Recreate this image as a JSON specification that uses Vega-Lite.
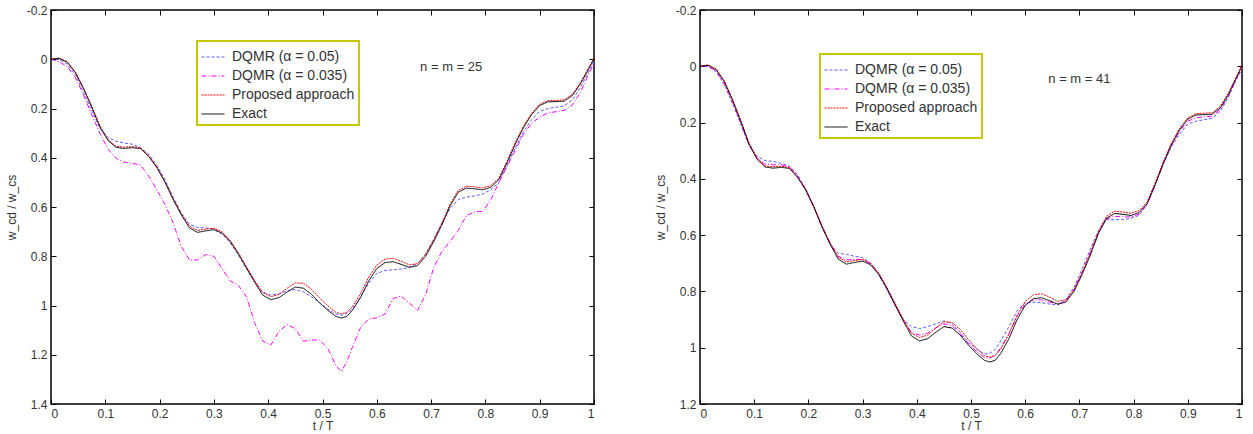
{
  "$schema": "https://vega.github.io/schema/vega-lite/v6.json",
  "padding": {"left": 4, "top": 3, "right": 4, "bottom": 0},
  "spacing": 57,
  "config": {
    "font": "Liberation Sans",
    "view": {"stroke": "black", "strokeWidth": 1.5},
    "axis": {"grid": false, "domain": false, "tickSize": -5, "tickColor": "black", "tickWidth": 1, "labelPadding": 9, "labelFont": "Liberation Sans", "labelFontSize": 12, "labelColor": "#333", "titleFont": "Liberation Sans", "titleFontSize": 12, "titleFontWeight": "normal", "titleColor": "#333", "labelExpr": "'' + datum.value"},
    "legend": {"title": null, "symbolType": "stroke", "symbolSize": 529, "fillColor": "white", "strokeColor": "#c8c800", "strokeWidth": 2, "padding": 4, "labelFont": "Liberation Sans", "labelFontSize": 14, "labelColor": "#333", "labelOffset": 7, "rowPadding": -2}
  },
  "datasets": {
    "left": [
      {"t":0,"E":0,"R":0,"B":0,"M":0},
      {"t":0.015,"E":-0.003,"R":-0.005,"B":0,"M":0.01},
      {"t":0.03,"E":0.012,"R":0.01,"B":0.02,"M":0.03},
      {"t":0.045,"E":0.055,"R":0.052,"B":0.065,"M":0.075},
      {"t":0.06,"E":0.12,"R":0.117,"B":0.135,"M":0.145},
      {"t":0.075,"E":0.195,"R":0.19,"B":0.21,"M":0.225},
      {"t":0.09,"E":0.275,"R":0.27,"B":0.28,"M":0.3},
      {"t":0.105,"E":0.33,"R":0.326,"B":0.318,"M":0.365},
      {"t":0.12,"E":0.358,"R":0.354,"B":0.333,"M":0.402},
      {"t":0.135,"E":0.362,"R":0.357,"B":0.34,"M":0.418},
      {"t":0.15,"E":0.359,"R":0.355,"B":0.345,"M":0.423},
      {"t":0.165,"E":0.363,"R":0.36,"B":0.36,"M":0.43},
      {"t":0.18,"E":0.395,"R":0.392,"B":0.385,"M":0.475},
      {"t":0.195,"E":0.44,"R":0.437,"B":0.43,"M":0.53},
      {"t":0.21,"E":0.5,"R":0.497,"B":0.49,"M":0.59},
      {"t":0.225,"E":0.57,"R":0.566,"B":0.56,"M":0.665},
      {"t":0.24,"E":0.632,"R":0.627,"B":0.625,"M":0.76},
      {"t":0.255,"E":0.685,"R":0.678,"B":0.67,"M":0.815},
      {"t":0.27,"E":0.703,"R":0.695,"B":0.683,"M":0.815},
      {"t":0.285,"E":0.697,"R":0.69,"B":0.685,"M":0.793},
      {"t":0.3,"E":0.692,"R":0.686,"B":0.69,"M":0.8},
      {"t":0.315,"E":0.706,"R":0.7,"B":0.71,"M":0.85},
      {"t":0.33,"E":0.74,"R":0.735,"B":0.745,"M":0.9},
      {"t":0.345,"E":0.79,"R":0.786,"B":0.795,"M":0.918},
      {"t":0.36,"E":0.848,"R":0.842,"B":0.85,"M":0.965},
      {"t":0.375,"E":0.905,"R":0.898,"B":0.905,"M":1.07},
      {"t":0.39,"E":0.958,"R":0.948,"B":0.945,"M":1.145},
      {"t":0.405,"E":0.976,"R":0.964,"B":0.958,"M":1.16},
      {"t":0.42,"E":0.968,"R":0.955,"B":0.952,"M":1.105},
      {"t":0.435,"E":0.945,"R":0.93,"B":0.94,"M":1.077},
      {"t":0.45,"E":0.925,"R":0.908,"B":0.935,"M":1.095},
      {"t":0.465,"E":0.93,"R":0.91,"B":0.945,"M":1.145},
      {"t":0.48,"E":0.955,"R":0.935,"B":0.965,"M":1.14},
      {"t":0.495,"E":0.99,"R":0.97,"B":0.99,"M":1.14},
      {"t":0.51,"E":1.02,"R":1.002,"B":1.015,"M":1.175},
      {"t":0.525,"E":1.045,"R":1.028,"B":1.035,"M":1.245},
      {"t":0.535,"E":1.051,"R":1.034,"B":1.04,"M":1.268},
      {"t":0.545,"E":1.044,"R":1.027,"B":1.032,"M":1.227},
      {"t":0.555,"E":1.02,"R":1.005,"B":1.015,"M":1.17},
      {"t":0.57,"E":0.968,"R":0.952,"B":0.965,"M":1.09},
      {"t":0.585,"E":0.9,"R":0.885,"B":0.91,"M":1.055},
      {"t":0.6,"E":0.85,"R":0.836,"B":0.87,"M":1.05},
      {"t":0.615,"E":0.826,"R":0.812,"B":0.858,"M":1.035},
      {"t":0.63,"E":0.822,"R":0.808,"B":0.855,"M":0.972},
      {"t":0.645,"E":0.833,"R":0.82,"B":0.852,"M":0.962},
      {"t":0.66,"E":0.845,"R":0.835,"B":0.845,"M":0.99},
      {"t":0.675,"E":0.838,"R":0.83,"B":0.83,"M":1.02},
      {"t":0.69,"E":0.8,"R":0.793,"B":0.79,"M":0.955},
      {"t":0.705,"E":0.74,"R":0.733,"B":0.73,"M":0.845},
      {"t":0.72,"E":0.672,"R":0.665,"B":0.665,"M":0.78},
      {"t":0.735,"E":0.595,"R":0.588,"B":0.605,"M":0.74},
      {"t":0.75,"E":0.54,"R":0.533,"B":0.57,"M":0.695},
      {"t":0.765,"E":0.523,"R":0.515,"B":0.56,"M":0.635},
      {"t":0.78,"E":0.526,"R":0.518,"B":0.555,"M":0.62},
      {"t":0.795,"E":0.53,"R":0.522,"B":0.548,"M":0.618},
      {"t":0.81,"E":0.52,"R":0.513,"B":0.53,"M":0.57},
      {"t":0.825,"E":0.488,"R":0.482,"B":0.5,"M":0.5},
      {"t":0.84,"E":0.42,"R":0.413,"B":0.43,"M":0.435},
      {"t":0.855,"E":0.345,"R":0.338,"B":0.36,"M":0.37},
      {"t":0.87,"E":0.278,"R":0.272,"B":0.295,"M":0.305},
      {"t":0.885,"E":0.225,"R":0.22,"B":0.245,"M":0.26},
      {"t":0.9,"E":0.188,"R":0.183,"B":0.212,"M":0.235},
      {"t":0.915,"E":0.173,"R":0.168,"B":0.2,"M":0.218},
      {"t":0.93,"E":0.172,"R":0.167,"B":0.195,"M":0.213},
      {"t":0.945,"E":0.17,"R":0.165,"B":0.19,"M":0.208},
      {"t":0.96,"E":0.148,"R":0.143,"B":0.165,"M":0.185},
      {"t":0.975,"E":0.1,"R":0.095,"B":0.115,"M":0.135},
      {"t":0.99,"E":0.04,"R":0.035,"B":0.05,"M":0.06},
      {"t":1,"E":0,"R":-0.005,"B":0.01,"M":0.02}
    ],
    "right": [
      {"t":0,"E":0,"R":0,"B":0,"M":0},
      {"t":0.015,"E":-0.003,"R":-0.005,"B":0,"M":0},
      {"t":0.03,"E":0.012,"R":0.01,"B":0.02,"M":0.018},
      {"t":0.045,"E":0.055,"R":0.052,"B":0.065,"M":0.062},
      {"t":0.06,"E":0.12,"R":0.117,"B":0.132,"M":0.128},
      {"t":0.075,"E":0.195,"R":0.19,"B":0.205,"M":0.2},
      {"t":0.09,"E":0.275,"R":0.27,"B":0.278,"M":0.277},
      {"t":0.105,"E":0.33,"R":0.326,"B":0.32,"M":0.326},
      {"t":0.12,"E":0.358,"R":0.354,"B":0.335,"M":0.348},
      {"t":0.135,"E":0.362,"R":0.357,"B":0.338,"M":0.35},
      {"t":0.15,"E":0.359,"R":0.355,"B":0.345,"M":0.35},
      {"t":0.165,"E":0.363,"R":0.36,"B":0.355,"M":0.357},
      {"t":0.18,"E":0.395,"R":0.392,"B":0.385,"M":0.39},
      {"t":0.195,"E":0.44,"R":0.437,"B":0.435,"M":0.438},
      {"t":0.21,"E":0.5,"R":0.497,"B":0.5,"M":0.5},
      {"t":0.225,"E":0.57,"R":0.566,"B":0.57,"M":0.57},
      {"t":0.24,"E":0.632,"R":0.627,"B":0.63,"M":0.632},
      {"t":0.255,"E":0.685,"R":0.678,"B":0.665,"M":0.675},
      {"t":0.27,"E":0.703,"R":0.695,"B":0.668,"M":0.688},
      {"t":0.285,"E":0.697,"R":0.69,"B":0.675,"M":0.686},
      {"t":0.3,"E":0.692,"R":0.686,"B":0.68,"M":0.686},
      {"t":0.315,"E":0.706,"R":0.7,"B":0.7,"M":0.703},
      {"t":0.33,"E":0.74,"R":0.735,"B":0.74,"M":0.74},
      {"t":0.345,"E":0.79,"R":0.786,"B":0.795,"M":0.79},
      {"t":0.36,"E":0.848,"R":0.842,"B":0.85,"M":0.848},
      {"t":0.375,"E":0.905,"R":0.898,"B":0.9,"M":0.902},
      {"t":0.39,"E":0.958,"R":0.948,"B":0.925,"M":0.945},
      {"t":0.405,"E":0.976,"R":0.964,"B":0.932,"M":0.955},
      {"t":0.42,"E":0.968,"R":0.955,"B":0.925,"M":0.948},
      {"t":0.435,"E":0.945,"R":0.93,"B":0.915,"M":0.93},
      {"t":0.45,"E":0.925,"R":0.908,"B":0.905,"M":0.915},
      {"t":0.465,"E":0.93,"R":0.91,"B":0.915,"M":0.922},
      {"t":0.48,"E":0.955,"R":0.935,"B":0.945,"M":0.95},
      {"t":0.495,"E":0.99,"R":0.97,"B":0.98,"M":0.985},
      {"t":0.51,"E":1.02,"R":1.002,"B":1.005,"M":1.013},
      {"t":0.525,"E":1.045,"R":1.028,"B":1.022,"M":1.035},
      {"t":0.535,"E":1.051,"R":1.034,"B":1.02,"M":1.037},
      {"t":0.545,"E":1.044,"R":1.027,"B":1.005,"M":1.025},
      {"t":0.555,"E":1.02,"R":1.005,"B":0.975,"M":1.0},
      {"t":0.57,"E":0.968,"R":0.952,"B":0.925,"M":0.95},
      {"t":0.585,"E":0.9,"R":0.885,"B":0.87,"M":0.888},
      {"t":0.6,"E":0.85,"R":0.836,"B":0.84,"M":0.845},
      {"t":0.615,"E":0.826,"R":0.812,"B":0.838,"M":0.83},
      {"t":0.63,"E":0.822,"R":0.808,"B":0.84,"M":0.83},
      {"t":0.645,"E":0.833,"R":0.82,"B":0.845,"M":0.838},
      {"t":0.66,"E":0.845,"R":0.835,"B":0.848,"M":0.846},
      {"t":0.675,"E":0.838,"R":0.83,"B":0.83,"M":0.835},
      {"t":0.69,"E":0.8,"R":0.793,"B":0.785,"M":0.795},
      {"t":0.705,"E":0.74,"R":0.733,"B":0.72,"M":0.732},
      {"t":0.72,"E":0.672,"R":0.665,"B":0.65,"M":0.662},
      {"t":0.735,"E":0.595,"R":0.588,"B":0.585,"M":0.59},
      {"t":0.75,"E":0.54,"R":0.533,"B":0.545,"M":0.542},
      {"t":0.765,"E":0.523,"R":0.515,"B":0.545,"M":0.533},
      {"t":0.78,"E":0.526,"R":0.518,"B":0.545,"M":0.535},
      {"t":0.795,"E":0.53,"R":0.522,"B":0.54,"M":0.535},
      {"t":0.81,"E":0.52,"R":0.513,"B":0.53,"M":0.525},
      {"t":0.825,"E":0.488,"R":0.482,"B":0.49,"M":0.49},
      {"t":0.84,"E":0.42,"R":0.413,"B":0.42,"M":0.42},
      {"t":0.855,"E":0.345,"R":0.338,"B":0.345,"M":0.345},
      {"t":0.87,"E":0.278,"R":0.272,"B":0.285,"M":0.28},
      {"t":0.885,"E":0.225,"R":0.22,"B":0.24,"M":0.23},
      {"t":0.9,"E":0.188,"R":0.183,"B":0.205,"M":0.195},
      {"t":0.915,"E":0.173,"R":0.168,"B":0.195,"M":0.183},
      {"t":0.93,"E":0.172,"R":0.167,"B":0.19,"M":0.18},
      {"t":0.945,"E":0.17,"R":0.165,"B":0.185,"M":0.177},
      {"t":0.96,"E":0.148,"R":0.143,"B":0.16,"M":0.153},
      {"t":0.975,"E":0.1,"R":0.095,"B":0.11,"M":0.105},
      {"t":0.99,"E":0.04,"R":0.035,"B":0.045,"M":0.042},
      {"t":1,"E":0,"R":-0.005,"B":0.01,"M":0.005}
    ],
    "notes": [
      {"p":"L","t":0.737,"w":0.03,"label":"n = m = 25"},
      {"p":"R","t":0.70,"w":0.045,"label":"n = m = 41"}
    ]
  },
  "hconcat": [
    {
      "width": 543,
      "height": 394,
      "layer": [
        {
          "data": {"name": "left"},
          "transform": [{"fold": ["B", "M", "R", "E"], "as": ["s", "w"]}],
          "mark": {"type": "line", "clip": true},
          "encoding": {
            "x": {"field": "t", "type": "quantitative", "scale": {"domain": [0, 1], "nice": false}, "axis": {"title": "t / T", "values": [0,0.1,0.2,0.3,0.4,0.5,0.6,0.7,0.8,0.9,1], "titlePadding": 1}},
            "y": {"field": "w", "type": "quantitative", "scale": {"domain": [-0.2, 1.4], "reverse": true, "nice": false, "zero": false}, "axis": {"title": "w_cd / w_cs", "values": [-0.2,0,0.2,0.4,0.6,0.8,1,1.2,1.4], "titlePadding": 8}},
            "color": {"field": "s", "type": "nominal", "scale": {"domain": ["B","M","R","E"], "range": ["#5a5aff","#ff00ff","#ff0000","#000000"]}, "legend": {"orient": "none", "legendX": 146, "legendY": 31, "labelExpr": "datum.value=='B'?'DQMR (α = 0.05)':datum.value=='M'?'DQMR (α = 0.035)':datum.value=='R'?'Proposed approach':'Exact'", "encode": {"symbols": {"update": {"strokeDash": {"signal": "datum.value=='B'?[3,2]:datum.value=='M'?[5,2,1,2]:datum.value=='R'?[2,1]:[1,0]"}, "strokeWidth": {"signal": "datum.value=='E'?1.5:1.2"}}}}}},
            "strokeDash": {"field": "s", "type": "nominal", "scale": {"domain": ["B","M","R","E"], "range": [[3,2],[5,2,1,2],[2,1],[1,0]]}, "legend": null},
            "strokeWidth": {"field": "s", "type": "nominal", "scale": {"domain": ["B","M","R","E"], "range": [1,1,1.1,1.8]}, "legend": null}
          }
        },
        {
          "data": {"name": "notes"},
          "transform": [{"filter": "datum.p == 'L'"}],
          "mark": {"type": "text", "fontSize": 13, "color": "#333", "font": "Liberation Sans"},
          "encoding": {
            "x": {"field": "t", "type": "quantitative", "axis": {"orient": "top", "labels": false, "title": null, "values": [0,0.1,0.2,0.3,0.4,0.5,0.6,0.7,0.8,0.9,1]}},
            "y": {"field": "w", "type": "quantitative", "axis": {"orient": "right", "labels": false, "title": null, "values": [-0.2,0,0.2,0.4,0.6,0.8,1,1.2,1.4]}},
            "text": {"field": "label"}
          }
        }
      ],
      "resolve": {"axis": {"x": "independent", "y": "independent"}}
    },
    {
      "width": 542,
      "height": 394,
      "layer": [
        {
          "data": {"name": "right"},
          "transform": [{"fold": ["B", "M", "R", "E"], "as": ["s", "w"]}],
          "mark": {"type": "line", "clip": true},
          "encoding": {
            "x": {"field": "t", "type": "quantitative", "scale": {"domain": [0, 1], "nice": false}, "axis": {"title": "t / T", "values": [0,0.1,0.2,0.3,0.4,0.5,0.6,0.7,0.8,0.9,1], "titlePadding": 1}},
            "y": {"field": "w", "type": "quantitative", "scale": {"domain": [-0.2, 1.2], "reverse": true, "nice": false, "zero": false}, "axis": {"title": "w_cd / w_cs", "values": [-0.2,0,0.2,0.4,0.6,0.8,1,1.2], "titlePadding": 8}},
            "color": {"field": "s", "type": "nominal", "scale": {"domain": ["B","M","R","E"], "range": ["#5a5aff","#ff00ff","#ff0000","#000000"]}, "legend": {"orient": "none", "legendX": 120, "legendY": 44, "labelExpr": "datum.value=='B'?'DQMR (α = 0.05)':datum.value=='M'?'DQMR (α = 0.035)':datum.value=='R'?'Proposed approach':'Exact'", "encode": {"symbols": {"update": {"strokeDash": {"signal": "datum.value=='B'?[3,2]:datum.value=='M'?[5,2,1,2]:datum.value=='R'?[2,1]:[1,0]"}, "strokeWidth": {"signal": "datum.value=='E'?1.5:1.2"}}}}}},
            "strokeDash": {"field": "s", "type": "nominal", "scale": {"domain": ["B","M","R","E"], "range": [[3,2],[5,2,1,2],[2,1],[1,0]]}, "legend": null},
            "strokeWidth": {"field": "s", "type": "nominal", "scale": {"domain": ["B","M","R","E"], "range": [1,1,1.1,1.8]}, "legend": null}
          }
        },
        {
          "data": {"name": "notes"},
          "transform": [{"filter": "datum.p == 'R'"}],
          "mark": {"type": "text", "fontSize": 13, "color": "#333", "font": "Liberation Sans"},
          "encoding": {
            "x": {"field": "t", "type": "quantitative", "axis": {"orient": "top", "labels": false, "title": null, "values": [0,0.1,0.2,0.3,0.4,0.5,0.6,0.7,0.8,0.9,1]}},
            "y": {"field": "w", "type": "quantitative", "axis": {"orient": "right", "labels": false, "title": null, "values": [-0.2,0,0.2,0.4,0.6,0.8,1,1.2]}},
            "text": {"field": "label"}
          }
        }
      ],
      "resolve": {"axis": {"x": "independent", "y": "independent"}}
    }
  ],
  "resolve": {
    "scale": {"color": "independent", "strokeDash": "independent", "strokeWidth": "independent"},
    "legend": {"color": "independent"}
  }
}
